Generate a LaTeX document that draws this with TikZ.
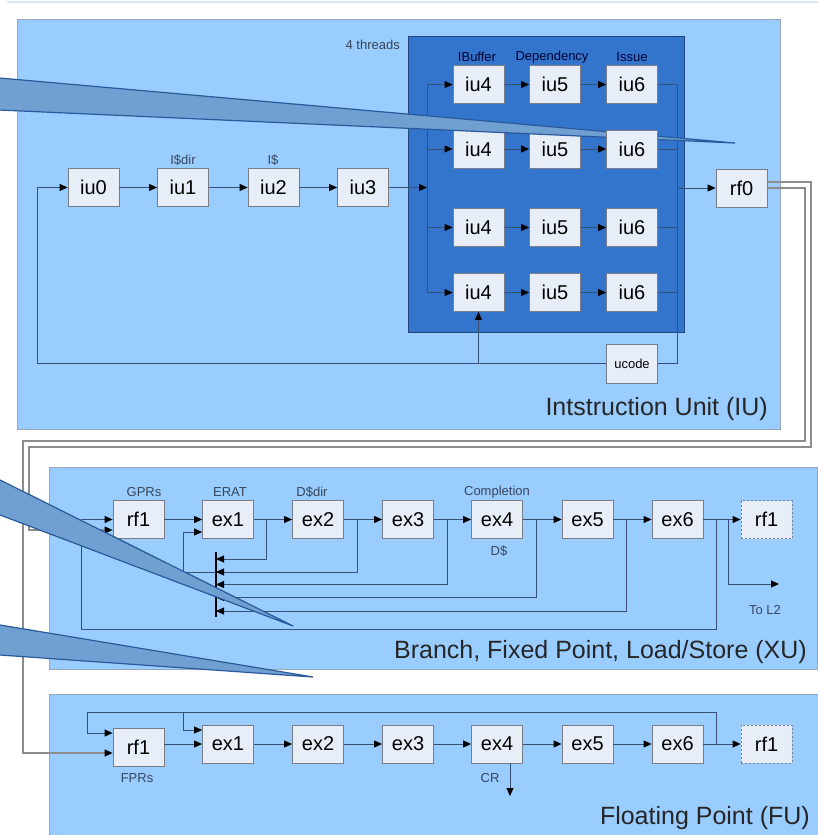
\documentclass[tikz,border=0pt]{standalone}
\usepackage{fontspec}
\setmainfont{Liberation Sans}
\usetikzlibrary{arrows.meta}
\definecolor{panel}{RGB}{153,204,255}
\definecolor{panelborder}{RGB}{150,165,185}
\definecolor{darkpanel}{RGB}{51,117,204}
\definecolor{darkborder}{RGB}{35,70,125}
\definecolor{boxfill}{RGB}{232,238,248}
\definecolor{boxborder}{RGB}{120,125,135}
\definecolor{wirecol}{RGB}{55,80,115}
\definecolor{greywire}{RGB}{140,140,140}
\definecolor{callfill}{RGB}{112,160,210}
\definecolor{callborder}{RGB}{40,90,155}
\definecolor{labeltext}{RGB}{55,70,90}
\definecolor{toplinecol}{RGB}{215,232,250}
\begin{document}
\begin{tikzpicture}[x=1pt,y=-1pt,
  stagebox/.style={draw=boxborder, fill=boxfill, minimum width=51pt, minimum height=38pt, inner sep=0pt, line width=0.8pt, font=\fontsize{20}{20}\selectfont},
  dashbox/.style={stagebox, dash pattern=on 2pt off 2pt},
  smalllabel/.style={font=\fontsize{13}{13}\selectfont, text=labeltext, inner sep=0pt},
  unittitle/.style={font=\fontsize{25}{25}\selectfont, text=black!85, anchor=east, inner sep=0pt},
  wire/.style={draw=wirecol, line width=0.9pt},
  arr/.style={wire, -{Triangle[length=8pt,width=7pt,color=black]}},
  gwire/.style={draw=greywire, line width=1.1pt},
  garr/.style={gwire, -{Triangle[length=8pt,width=7pt,color=black]}},
  callout/.style={fill=callfill, draw=callborder, line width=1.2pt, line join=miter}
]
\clip (0,0) rectangle (818,835);
\fill[white] (0,0) rectangle (818,835);
\draw[toplinecol, line width=1.5pt] (7,2) -- (818,2);

% ---------- panels ----------
\draw[fill=panel, draw=panelborder, line width=1pt] (17,19) rectangle (780,429);
\draw[fill=panel, draw=panelborder, line width=1pt] (49,467) rectangle (817,669);
\draw[fill=panel, draw=panelborder, line width=1pt] (49,694) rectangle (830,850);
\draw[fill=darkpanel, draw=darkborder, line width=1pt] (408,36) rectangle (684,332);

% ---------- IU ----------
\node[stagebox] (iu0) at (93.5,187.5) {iu0};
\node[stagebox] (iu1) at (183,187.5) {iu1};
\node[stagebox] (iu2) at (273.5,187.5) {iu2};
\node[stagebox] (iu3) at (363,187.5) {iu3};
\node[stagebox] (rf0) at (741.5,188) {rf0};
\node[smalllabel] (l1) at (183,160) {I\$dir};
\node[smalllabel] (l2) at (273,160) {I\$};
\node[smalllabel, anchor=east] (l3) at (400,45) {4 threads};

\node[stagebox] (a4) at (478.5,84.5) {iu4};
\node[stagebox] (a5) at (555,84.5) {iu5};
\node[stagebox] (a6) at (632,84.5) {iu6};
\node[stagebox] (b4) at (478.5,149) {iu4};
\node[stagebox] (b5) at (555,149) {iu5};
\node[stagebox] (c4) at (478.5,227.5) {iu4};
\node[stagebox] (c5) at (555,227.5) {iu5};
\node[stagebox] (c6) at (632,227.5) {iu6};
\node[stagebox] (d4) at (478.5,292.5) {iu4};
\node[stagebox] (d5) at (555,292.5) {iu5};
\node[stagebox] (d6) at (632,292.5) {iu6};
\node[smalllabel, text=black!80!blue] (l4) at (477,57) {IBuffer};
\node[smalllabel, text=black!80!blue] (l5) at (552,57) {Dependency};
\node[smalllabel, text=black!80!blue] (l6) at (632,57) {Issue};
\node[stagebox, minimum height=39pt, font=\fontsize{13}{13}\selectfont] (ucode) at (632,363.5) {ucode};
\node[unittitle] (tiu) at (768,409) {Intstruction Unit (IU)};

\coordinate (busT) at (427,84.5);
\coordinate (busB) at (427,292.5);
\coordinate (outT) at (677,84.5);
\coordinate (outB) at (677,363.5);
\coordinate (loopA) at (37,363.5);
\coordinate (loopB) at (37,187.5);

\draw[arr] (iu0) -- (iu1);
\draw[arr] (iu1) -- (iu2);
\draw[arr] (iu2) -- (iu3);
\draw[arr] (iu3.east) -- (iu3.east -| busT);
\draw[wire] (busT) -- (busB);
\foreach \r in {a,b,c,d}{
  \draw[arr] (\r4.west -| busT) -- (\r4.west);
  \draw[arr] (\r4) -- (\r5);
}
\foreach \r in {a,c,d}{
  \draw[arr] (\r5) -- (\r6);
  \draw[wire] (\r6.east) -- (\r6.east -| outT);
}
\draw[wire] (outT) -- (outB) -- (ucode.east);
\draw[arr] (rf0.west -| outT) -- (rf0.west);
\draw[arr] (ucode.west) -- (loopA) -- (loopB) -- (iu0.west);
\draw[arr] (d4.south |- ucode.west) -- (d4.south);

% ---------- XU ----------
\node[stagebox] (xrf1) at (138.5,519.5) {rf1};
\node[stagebox] (xex1) at (228,519.5) {ex1};
\node[stagebox] (xex2) at (318,519.5) {ex2};
\node[stagebox] (xex3) at (408,519.5) {ex3};
\node[stagebox] (xex4) at (497,519.5) {ex4};
\node[stagebox] (xex5) at (587.5,519.5) {ex5};
\node[stagebox] (xex6) at (677.5,519.5) {ex6};
\node[dashbox] (xrf1d) at (766.5,519.5) {rf1};
\node[smalllabel] (g1) at (144,492) {GPRs};
\node[smalllabel] (g2) at (230,492) {ERAT};
\node[smalllabel] (g3) at (312,492) {D\$dir};
\node[smalllabel] (g4) at (497,492) {Completion};
\node[smalllabel] (g5) at (499,551) {D\$};
\node[smalllabel] (g6) at (765,610) {To L2};
\node[unittitle] (txu) at (807,652) {Branch, Fixed Point, Load/Store (XU)};

\draw[arr] (xrf1) -- (xex1);
\draw[arr] (xex1) -- (xex2);
\draw[arr] (xex2) -- (xex3);
\draw[arr] (xex3) -- (xex4);
\draw[arr] (xex4) -- (xex5);
\draw[arr] (xex5) -- (xex6);
\draw[arr] (xex6) -- (xrf1d);

\coordinate (barT) at (216,552);
\coordinate (barB) at (216,617);
\coordinate (t1) at (266,519.5);
\coordinate (t2) at (357,519.5);
\coordinate (t3) at (447,519.5);
\coordinate (t4) at (536,519.5);
\coordinate (t5) at (626,519.5);
\coordinate (t6) at (716,519.5);
\coordinate (tL) at (728,519.5);
\coordinate (toL2) at (779,584);
\draw[black, line width=2pt] (barT) -- (barB);
\draw[arr] (t1) |- (216,559);
\draw[arr] (t2) |- (216,572);
\draw[arr] (216,572) -- (183,572) -- (183,532) -- (xex1.west |- 0,532);
\draw[arr] (t3) |- (216,584.5);
\draw[arr] (t4) |- (216,597.5);
\draw[arr] (t5) |- (216,611);
\draw[arr] (t6) |- (81,629) -- (81,519.5) -- (xrf1.west);
\draw[arr] (tL) |- (toL2);

% ---------- FU ----------
\node[stagebox] (frf1) at (138.5,747) {rf1};
\node[stagebox] (fex1) at (228,744) {ex1};
\node[stagebox] (fex2) at (318,744) {ex2};
\node[stagebox] (fex3) at (408,744) {ex3};
\node[stagebox] (fex4) at (497,744) {ex4};
\node[stagebox] (fex5) at (587.5,744) {ex5};
\node[stagebox] (fex6) at (677.5,744) {ex6};
\node[dashbox] (frf1d) at (766.5,744) {rf1};
\node[smalllabel] (h1) at (137,778) {FPRs};
\node[smalllabel] (h2) at (490,778) {CR};
\node[unittitle] (tfu) at (810,818) {Floating Point (FU)};

\draw[arr] (frf1.east |- fex1.west) -- (fex1.west);
\draw[arr] (fex1) -- (fex2);
\draw[arr] (fex2) -- (fex3);
\draw[arr] (fex3) -- (fex4);
\draw[arr] (fex4) -- (fex5);
\draw[arr] (fex5) -- (fex6);
\draw[arr] (fex6) -- (frf1d);
\coordinate (f6) at (716,744);
\draw[arr] (f6) |- (87,712) -- (87,733) -- (frf1.west |- 0,733);
\draw[arr] (183,712) -- (183,730) -- (fex1.west |- 0,730);
\draw[arr] (fex4.south -| 510,0) -- (510,796);

% ---------- grey connectors from rf0 ----------
\draw[garr] (rf0.east) -- (805,188) -- (805,441) -- (23,441) -- (23,753) -- (frf1.west |- 0,753);
\draw[garr] (rf0.east |- 0,182) -- (811,182) -- (811,447) -- (29,447) -- (29,530) -- (xrf1.west |- 0,530);

% ---------- callouts ----------
\draw[callout] (-30,75.4) -- (735,143) -- (-30,108.7) -- cycle;
\draw[callout] (-30,465) -- (293,626) -- (-30,503.6) -- cycle;
\draw[callout] (-30,620) -- (313,677) -- (-30,652.9) -- cycle;

% second-thread iu6 box lies over the first callout in the reference
\node[stagebox] (b6) at (632,149) {iu6};
\draw[arr] (b5) -- (b6);
\draw[wire] (b6.east) -- (b6.east -| outT);
\end{tikzpicture}
\end{document}
